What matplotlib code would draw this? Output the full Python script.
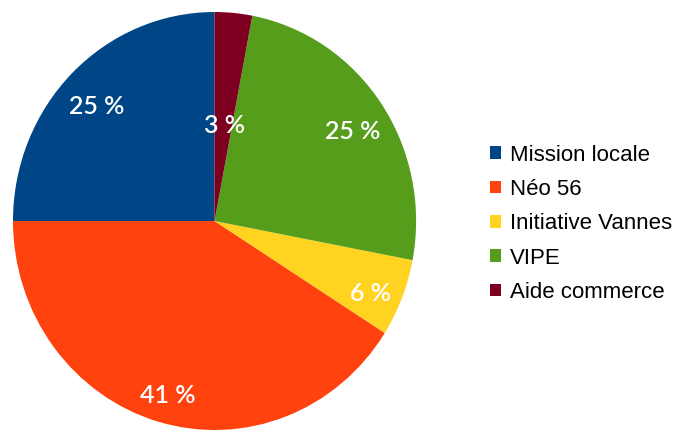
import numpy as np
import matplotlib.pyplot as plt
from matplotlib.patches import Patch

labels = ['Mission locale', 'Néo 56', 'Initiative Vannes', 'VIPE', 'Aide commerce']
values = [25, 41, 6, 25, 3]
colors = ['#004586', '#ff420e', '#ffd320', '#579d1c', '#7e0021']

fig = plt.figure(figsize=(6.73, 4.32), dpi=100)
ax = fig.add_axes([0.0193, 0.0046, 0.599, 0.9676])

wedges, _ = ax.pie(values, colors=colors, startangle=90, counterclock=True,
                   radius=1.0, wedgeprops=dict(linewidth=0))

# percent labels, placed from each wedge's middle angle
for w, v in zip(wedges, values):
    mid = np.deg2rad((w.theta1 + w.theta2) / 2)
    dist = 0.5 if v < 5 else 0.83
    ax.text(dist * np.cos(mid), dist * np.sin(mid) - 0.04, f'{v} %',
            ha='center', va='center', color='white', fontsize=18,
            family=['Lato', 'DejaVu Sans'], weight='semibold')

ax.set_xlim(-1, 1)
ax.set_ylim(-1, 1)
ax.set_aspect('auto')
ax.axis('off')

handles = [Patch(facecolor=c, edgecolor='none') for c in colors]
fig.legend(handles, labels, loc='center left', bbox_to_anchor=(0.698, 0.482),
           frameon=False, handlelength=0.5, handleheight=0.5,
           handletextpad=0.4, labelspacing=0.6,
           prop=dict(family=['Liberation Sans', 'DejaVu Sans'], size=16))

fig.savefig('out.png', dpi=100)
